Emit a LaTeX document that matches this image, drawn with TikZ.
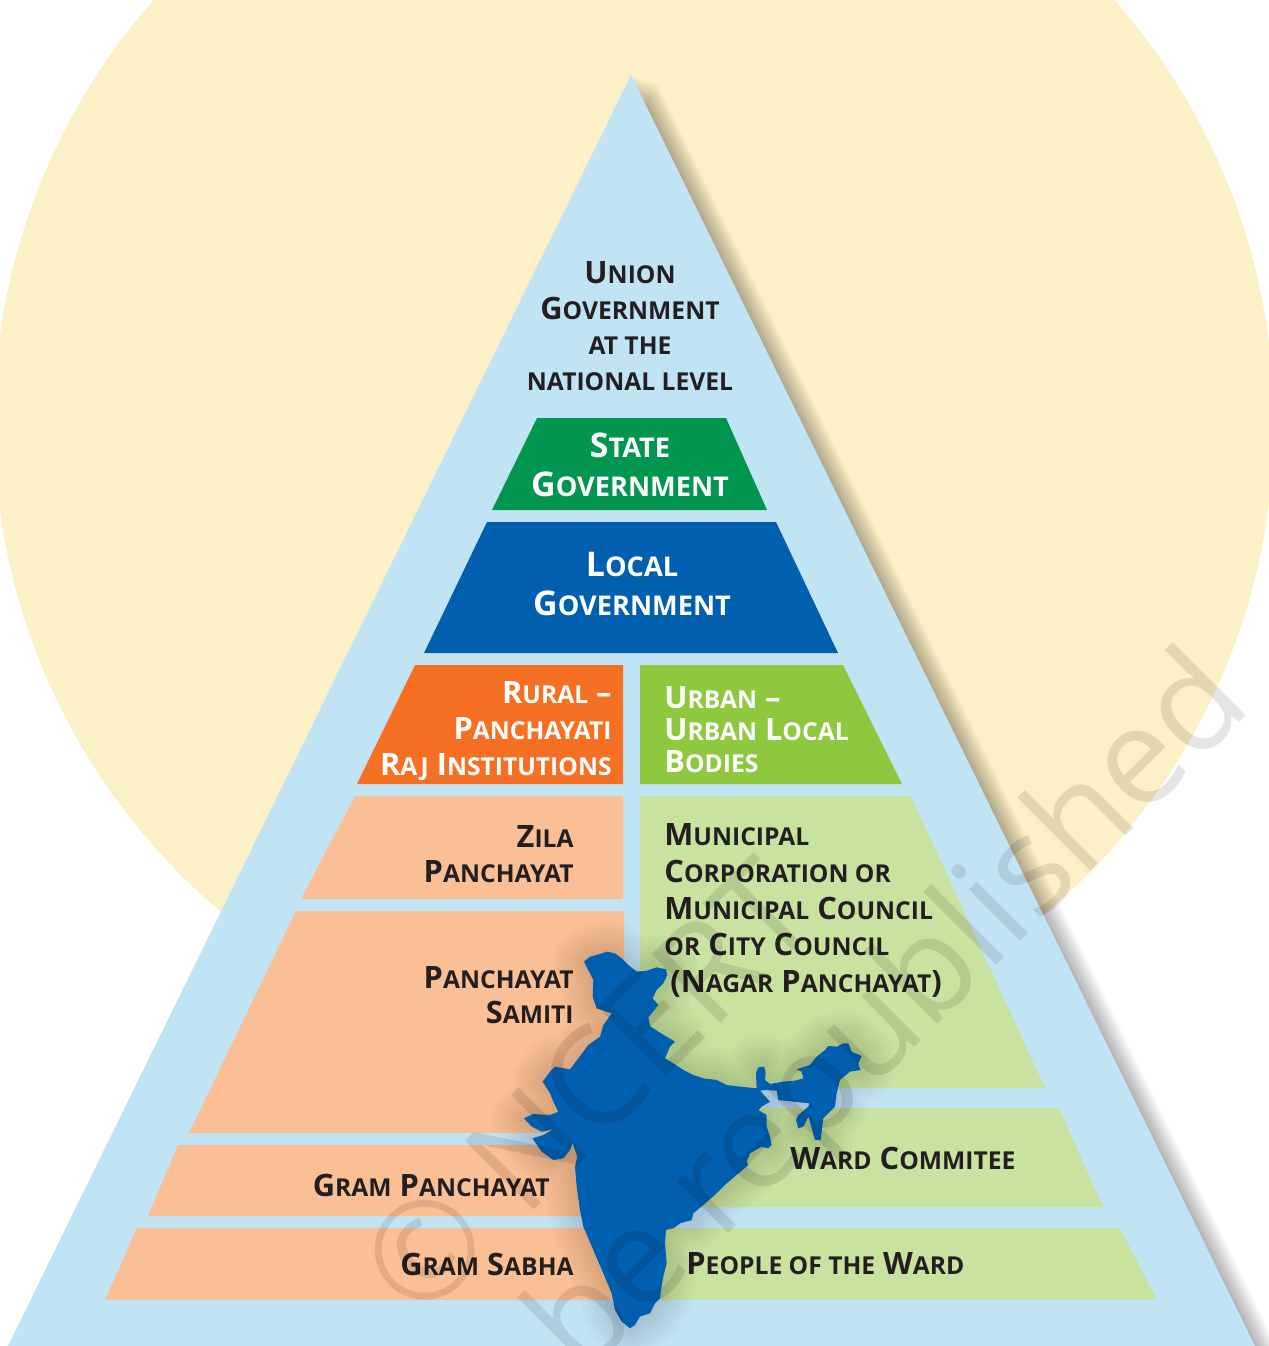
\documentclass[tikz,border=0pt]{standalone}
\usepackage{fontspec}
\setmainfont{Open Sans}
\usetikzlibrary{calc}
\definecolor{pastelyellow}{RGB}{252,240,198}
\definecolor{pastelsky}{RGB}{193,228,245}
\definecolor{pastelpeach}{RGB}{251,191,150}
\definecolor{pastelleaf}{RGB}{199,227,159}
\definecolor{paleland}{RGB}{165,195,220}
\definecolor{stategreen}{RGB}{0,150,80}
\definecolor{localblue}{RGB}{0,95,175}
\definecolor{ruralorange}{RGB}{245,112,35}
\definecolor{urbangreen}{RGB}{141,200,63}
\definecolor{inkblack}{RGB}{35,31,32}
\makeatletter
\newcommand{\smc}[1]{{\fontsize{\fpeval{.8*\f@size}}{0}\selectfont #1}}
\makeatother
\newcommand{\pyramidpath}{(631,75) -- (1255,1346) -- (8,1346) -- cycle}
\newcommand{\indiapath}{(252,95) -- (270,80) -- (300,72) -- (320,65) -- (345,70) -- (365,85) -- (385,105) -- (410,125) -- (440,122) -- (470,112) -- (498,118) -- (502,135) -- (490,160) -- (470,180) -- (458,205) -- (475,225) -- (455,250) -- (445,262) -- (450,288) -- (475,305) -- (500,320) -- (525,335) -- (510,350) -- (495,385) -- (520,400) -- (550,420) -- (580,435) -- (610,445) -- (650,450) -- (680,465) -- (720,470) -- (770,475) -- (768,430) -- (775,412) -- (793,410) -- (797,430) -- (795,450) -- (810,462) -- (850,455) -- (885,452) -- (910,445) -- (905,425) -- (890,418) -- (930,405) -- (950,380) -- (975,360) -- (985,348) -- (1010,350) -- (1030,340) -- (1045,340) -- (1055,365) -- (1085,378) -- (1075,400) -- (1082,420) -- (1050,425) -- (1020,450) -- (1010,490) -- (1005,530) -- (980,555) -- (970,565) -- (962,630) -- (945,630) -- (930,575) -- (925,560) -- (910,590) -- (895,595) -- (888,570) -- (895,555) -- (925,530) -- (928,520) -- (880,515) -- (835,510) -- (830,482) -- (800,480) -- (780,482) -- (810,515) -- (785,530) -- (775,540) -- (800,555) -- (800,590) -- (810,620) -- (815,645) -- (805,655) -- (785,650) -- (750,670) -- (740,695) -- (745,705) -- (710,735) -- (680,760) -- (650,790) -- (610,825) -- (580,850) -- (575,870) -- (540,880) -- (520,895) -- (498,900) -- (495,940) -- (500,1000) -- (490,1040) -- (483,1080) -- (480,1105) -- (465,1120) -- (450,1150) -- (420,1160) -- (405,1185) -- (390,1195) -- (365,1175) -- (345,1140) -- (335,1090) -- (310,1030) -- (280,960) -- (250,890) -- (240,840) -- (230,770) -- (225,710) -- (232,680) -- (225,660) -- (218,640) -- (210,660) -- (190,685) -- (160,690) -- (125,665) -- (97,625) -- (130,615) -- (160,598) -- (125,605) -- (95,590) -- (72,565) -- (100,552) -- (150,555) -- (175,545) -- (160,515) -- (150,490) -- (128,455) -- (150,425) -- (165,410) -- (210,418) -- (235,385) -- (265,345) -- (300,320) -- (310,285) -- (335,250) -- (290,235) -- (278,200) -- (280,150) -- cycle}

\begin{document}
\begin{tikzpicture}[x=.5pt, y=-.5pt]
\tikzstyle{lbl} = [text=inkblack, inner sep=0pt, font=\bfseries\fontsize{15.4}{17.8}\selectfont]
\tikzstyle{big} = [text=white, inner sep=0pt, font=\bfseries\fontsize{17}{19.4}\selectfont, align=center]
\tikzstyle{stamp} = [text=black, opacity=.1, inner sep=0pt, font=\fontsize{68}{68}\selectfont]

\clip (0,0) rectangle (1269,1346);
\fill[white] (0,0) rectangle (1269,1346);
\fill[pastelyellow] (634,423) circle (640);

% soft edge right of the pyramid
\foreach \d in {2,4,...,26} {
  \fill[black, opacity=.025, shift={(\d,.35*\d)}] \pyramidpath;
}
\fill[pastelsky] \pyramidpath;

\fill[stategreen] (537,418) -- (726,418) -- (767,510) -- (492,510) -- cycle;
\fill[localblue] (487,522) -- (776,522) -- (838,653) -- (424,653) -- cycle;
\fill[ruralorange] (415,665) -- (623,665) -- (623,784) -- (357,784) -- cycle;
\fill[urbangreen] (640,665) -- (843,665) -- (902,784) -- (640,784) -- cycle;

\fill[pastelpeach] (355,796) -- (623,796) -- (623,899) -- (301,899) -- cycle;
\fill[pastelpeach] (296,911) -- (624,911) -- (624,1133) -- (189,1133) -- cycle;
\fill[pastelpeach] (178,1145) -- (620,1145) -- (620,1216) -- (148,1216) -- cycle;
\fill[pastelpeach] (137,1228) -- (620,1228) -- (620,1300) -- (105,1300) -- cycle;

\fill[pastelleaf] (640,796) -- (911,796) -- (1045,1088) -- (640,1088) -- cycle;
\fill[pastelleaf] (660,1108) -- (1059,1108) -- (1103,1207) -- (660,1207) -- cycle;
\fill[pastelleaf] (660,1228) -- (1120,1228) -- (1157,1300) -- (660,1300) -- cycle;

\node (union) [lbl, align=center] at (630,326) {U\smc{NION}\\G\smc{OVERNMENT}\\\smc{AT THE}\\\smc{NATIONAL LEVEL}};
\node (state) [big] at (630,465) {S\smc{TATE}\\G\smc{OVERNMENT}};
\node (local) [big] at (632,584) {L\smc{OCAL}\\G\smc{OVERNMENT}};
\node (rural) [lbl, text=white, align=right, anchor=east] at (612,731) {R\smc{URAL} –\\P\smc{ANCHAYATI}\\R\smc{AJ} I\smc{NSTITUTIONS}};
\node (urban) [lbl, text=white, align=left, anchor=west, font=\bfseries\fontsize{15.4}{16}\selectfont] at (664,730) {U\smc{RBAN} –\\U\smc{RBAN} L\smc{OCAL}\\B\smc{ODIES}};
\node (zila) [lbl, align=right, anchor=east] at (574,854) {Z\smc{ILA}\\P\smc{ANCHAYAT}};
\node (samiti) [lbl, align=right, anchor=east] at (574,995) {P\smc{ANCHAYAT}\\S\smc{AMITI}};
\node (grampanch) [lbl, anchor=east] at (550,1185) {G\smc{RAM} P\smc{ANCHAYAT}};
\node (gramsabha) [lbl, anchor=east] at (574,1264) {G\smc{RAM} S\smc{ABHA}};
\node (municipal) [lbl, align=left, anchor=north west, font=\bfseries\fontsize{15.4}{18.4}\selectfont] at (664,823) {M\smc{UNICIPAL}\\C\smc{ORPORATION OR}\\M\smc{UNICIPAL} C\smc{OUNCIL}\\\smc{OR} C\smc{ITY} C\smc{OUNCIL}\\\hspace{3pt}(N\smc{AGAR} P\smc{ANCHAYAT})};
\node (ward) [lbl, anchor=west] at (790,1158) {W\smc{ARD} C\smc{OMMITEE}};
\node (people) [lbl, anchor=west] at (686,1264) {P\smc{EOPLE OF THE} W\smc{ARD}};

% map of India
\begin{scope}[shift={(500,930)}, x=.5pt/3, y=-.5pt/3]
\foreach \w in {4,8,...,32} {
  \draw[black, opacity=.016, line width=\w pt, line join=round] \indiapath;
}
\fill[paleland] (780,482) -- (830,482) -- (835,510) -- (928,520) -- (810,530) -- (785,530) -- cycle;
\fill[localblue] \indiapath;
\end{scope}

\node (ncert) [stamp, rotate=45, anchor=west] at (385,1290) {© NCERT};
\node (republished) [stamp, rotate=45, anchor=east] at (1230,682) {be republished};
\end{tikzpicture}
\end{document}
